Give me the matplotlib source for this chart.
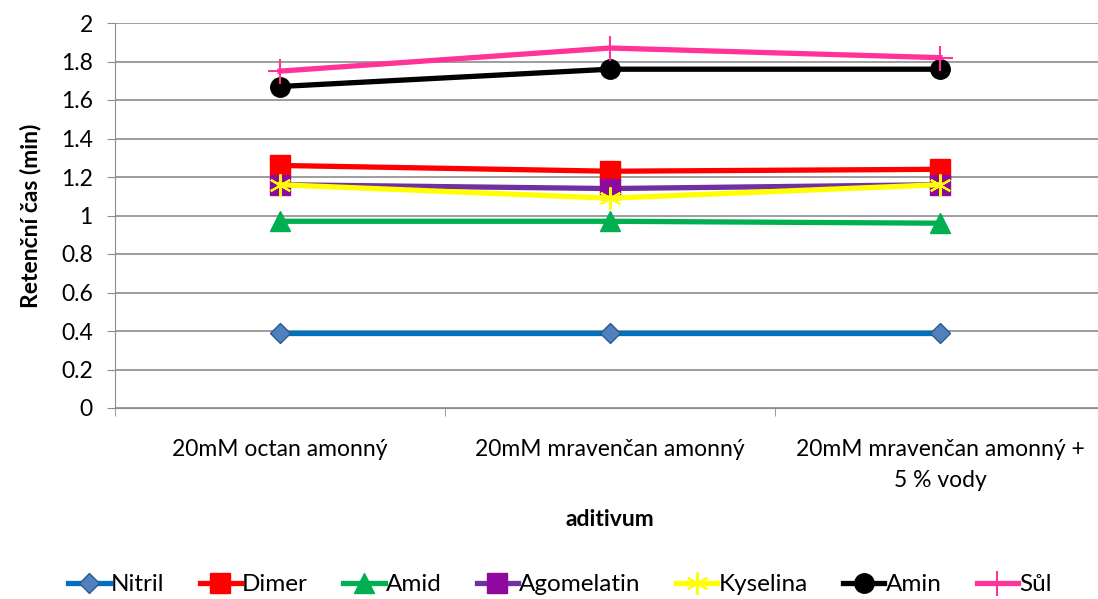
import matplotlib.pyplot as plt
import numpy as np

plt.rcParams['font.family'] = ['Lato', 'DejaVu Sans']

kategorie = ['20mM octan amonný', '20mM mravenčan amonný',
             '20mM mravenčan amonný +\n5 % vody']
nitril = [0.39, 0.39, 0.39]
dimer = [1.26, 1.23, 1.24]
amid = [0.97, 0.97, 0.96]
agomelatin = [1.16, 1.14, 1.16]
kyselina = [1.16, 1.09, 1.16]
amin = [1.67, 1.76, 1.76]
sul = [1.75, 1.87, 1.82]

x = np.arange(len(kategorie))
fs = 16.5

fig = plt.figure(figsize=(10.98, 5.99), dpi=100)
ax = fig.add_axes([115 / 1098, 1 - 408 / 599, 990 / 1098, 385 / 599])

lw = 3.8
ax.plot(x, nitril, color='#0070C0', lw=lw, marker='D', ms=10, mfc='#4F81BD', mec='#2A5A8F', label='Nitril')
ax.plot(x, dimer, color='#FF0000', lw=lw, marker='s', ms=14, label='Dimer')
ax.plot(x, amid, color='#00B050', lw=lw, marker='^', ms=14, label='Amid')
ax.plot(x, agomelatin, color='#7030A0', lw=lw, marker='s', ms=14, mfc='#8E0A9E', mec='#8E0A9E', label='Agomelatin')
ax.plot(x, kyselina, color='#FFFF00', lw=lw, marker=(6, 2, 0), ms=16, mew=1.5, mec='#FFFF00', label='Kyselina')
ax.plot(x, amin, color='#000000', lw=lw, marker='o', ms=14, label='Amin')
ax.plot(x, sul, color='#FF3399', lw=lw, marker='+', ms=18, mew=1.5, label='Sůl')

ax.set_xlim(-0.5, 2.5)
ax.set_ylim(0, 2)
ax.set_yticks(np.arange(0, 2.01, 0.2))
ax.set_yticklabels(['0', '0.2', '0.4', '0.6', '0.8', '1', '1.2', '1.4', '1.6', '1.8', '2'])
ax.yaxis.grid(True, color='#8C8C8C', lw=1.2)
ax.set_axisbelow(True)

ax.set_xticks(x)
ax.set_xticklabels(kategorie, fontsize=fs, linespacing=1.6)
ax.set_xticks([-0.5, 0.5, 1.5, 2.5], minor=True)
ax.tick_params(axis='x', which='major', length=0, pad=22)
ax.tick_params(axis='x', which='minor', length=6, color='#8C8C8C')
ax.tick_params(axis='y', length=6, color='#8C8C8C', labelsize=fs, pad=10)

for s in ['top', 'right']:
    ax.spines[s].set_visible(False)
for s in ['left', 'bottom']:
    ax.spines[s].set_color('#8C8C8C')

ax.set_xlabel('aditivum', fontsize=fs, fontweight='bold', labelpad=13)
ax.set_ylabel('Retenční čas (min)', fontsize=fs, fontweight='bold', labelpad=14)

fig.legend(loc='lower center', bbox_to_anchor=(0.51, -0.03), ncol=7, frameon=False,
           fontsize=17.5, handlelength=1.7, columnspacing=1.45, handletextpad=0.05)

fig.savefig('out.png', dpi=100)
